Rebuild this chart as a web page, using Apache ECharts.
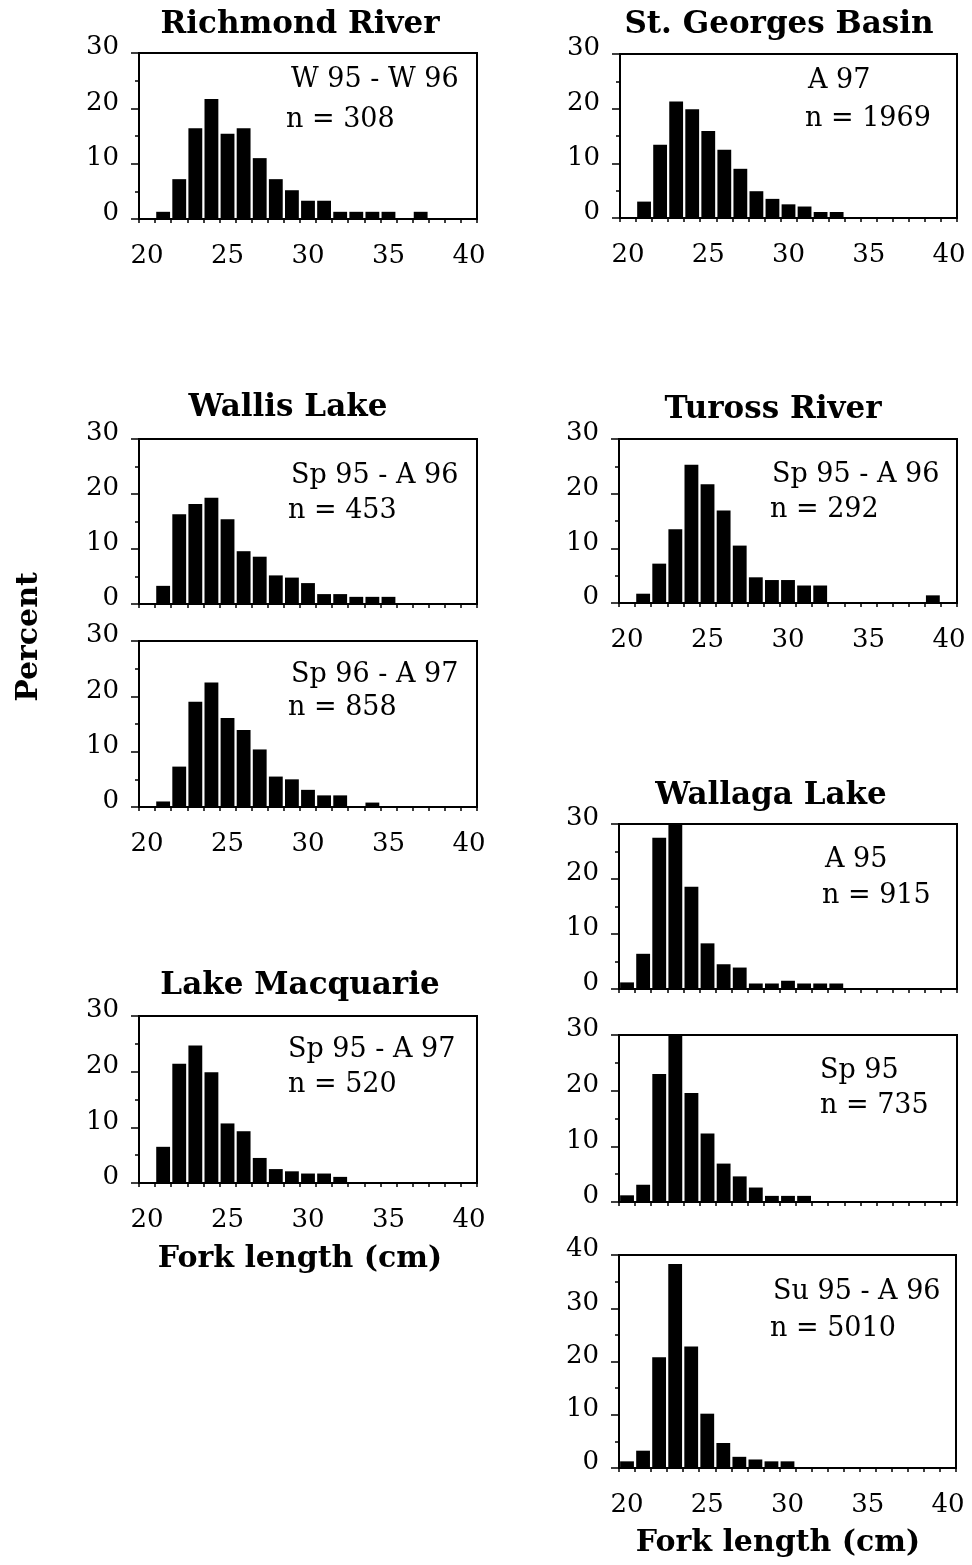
<!DOCTYPE html>
<html><head><meta charset="utf-8">
<script src="https://cdn.jsdelivr.net/npm/echarts@6/dist/echarts.min.js"></script>
<style>html,body{margin:0;padding:0;background:#fff}#c{width:972px;height:1565px}</style>
</head><body><div id="c"></div>
<script>
// Fork length bins (cm)
const lengthBins = ['20','21','22','23','24','25','26','27','28','29','30','31','32','33','34','35','36','37','38','39','40'];
// Percent per 1-cm length class
const richmondRiver  = [0,1.3,7.2,16.4,21.7,15.4,16.4,11.0,7.2,5.2,3.3,3.3,1.3,1.3,1.3,1.3,0,1.3,0,0,0];
const stGeorgesBasin = [0,3.0,13.4,21.3,19.9,15.9,12.5,9.0,4.9,3.5,2.5,2.1,1.1,1.1,0,0,0,0,0,0,0];
const wallisLakeA    = [0,3.3,16.3,18.2,19.3,15.4,9.6,8.6,5.2,4.8,3.8,1.8,1.8,1.3,1.3,1.3,0,0,0,0,0];
const wallisLakeB    = [0,1.0,7.3,19.0,22.5,16.1,13.9,10.4,5.5,5.0,3.1,2.1,2.1,0,0.8,0,0,0,0,0,0];
const turossRiver    = [0,1.7,7.2,13.5,25.3,21.7,16.9,10.5,4.7,4.2,4.2,3.2,3.2,0,0,0,0,0,0,1.4,0];
const lakeMacquarie  = [0,6.5,21.4,24.7,19.9,10.7,9.3,4.5,2.5,2.1,1.7,1.7,1.1,0,0,0,0,0,0,0,0];
const wallagaA95     = [1.2,6.4,27.5,30,18.6,8.3,4.5,3.9,1.0,1.0,1.5,1.0,1.0,1.0,0,0,0,0,0,0,0];
const wallagaSp95    = [1.2,3.1,23.0,30,19.6,12.3,6.9,4.6,2.6,1.1,1.1,1.1,0,0,0,0,0,0,0,0,0];
const wallagaSu95    = [1.25,3.25,20.8,38.3,22.8,10.2,4.7,2.1,1.6,1.25,1.25,0,0,0,0,0,0,0,0,0,0];

const siteTitles = ['Richmond River','St. Georges Basin','Wallis Lake','Tuross River','Wallaga Lake','Lake Macquarie'];
const periodLabels = ['W 95 - W 96','A 97','Sp 95 - A 96','Sp 96 - A 97','Sp 95 - A 96','Sp 95 - A 97','A 95','Sp 95','Su 95 - A 96'];
const sampleLabels = ['n = 308','n = 1969','n = 453','n = 858','n = 292','n = 520','n = 915','n = 735','n = 5010'];
const xAxisTitle = 'Fork length (cm)';
const yAxisTitle = 'Percent';

const FONT = '"DejaVu Serif", serif';

const panels = [
  {data: richmondRiver,  left:139, top:53,   width:338, height:166, yMax:30, xLabels:true},
  {data: stGeorgesBasin, left:620, top:54,   width:337, height:164, yMax:30, xLabels:true},
  {data: wallisLakeA,    left:139, top:439,  width:338, height:165, yMax:30, xLabels:false},
  {data: wallisLakeB,    left:139, top:641,  width:338, height:166, yMax:30, xLabels:true},
  {data: turossRiver,    left:619, top:439,  width:338, height:164, yMax:30, xLabels:true},
  {data: lakeMacquarie,  left:139, top:1016, width:338, height:167, yMax:30, xLabels:true},
  {data: wallagaA95,     left:619, top:824,  width:338, height:165, yMax:30, xLabels:false},
  {data: wallagaSp95,    left:619, top:1035, width:338, height:167, yMax:30, xLabels:false},
  {data: wallagaSu95,    left:619, top:1255, width:337, height:213, yMax:40, xLabels:true}
];
// annotation anchor positions (line 1, line 2)
const annoPos = [
  [[291,80],[286,120]],
  [[808,81],[805,119]],
  [[291,476],[288,511]],
  [[291,675],[288,708]],
  [[772,475],[770,510]],
  [[288,1050],[288,1085]],
  [[825,860],[822,896]],
  [[820,1071],[820,1106]],
  [[773,1292],[770,1329]]
];
const titlePos = [[300,25],[779,25],[288,408],[773,410],[771,796],[300,986]];

const grids = [], xAxes = [], yAxes = [], series = [];
panels.forEach((p, i) => {
  grids.push({left:p.left, top:p.top, width:p.width, height:p.height, show:true,
    borderColor:'#000', borderWidth:2, backgroundColor:'transparent', containLabel:false});
  xAxes.push({type:'category', gridIndex:i, data:lengthBins, boundaryGap:true,
    axisLine:{show:true, lineStyle:{color:'#000', width:2}},
    axisTick:{show:true, interval:0, length:4, lineStyle:{color:'#000', width:1.5}},
    axisLabel:{show:p.xLabels, interval:4, margin:24, color:'#000', fontFamily:FONT, fontSize:26},
    splitLine:{show:false}});
  yAxes.push({type:'value', gridIndex:i, min:0, max:p.yMax, interval:10,
    axisLine:{show:true, lineStyle:{color:'#000', width:2}},
    axisTick:{show:true, length:8, lineStyle:{color:'#000', width:1.5}},
    minorTick:{show:true, splitNumber:2, length:4, lineStyle:{color:'#000', width:1.5}},
    splitLine:{show:false}, minorSplitLine:{show:false},
    axisLabel:{margin:20, color:'#000', fontFamily:FONT, fontSize:26, verticalAlign:'bottom', lineHeight:11}});
  series.push({type:'bar', xAxisIndex:i, yAxisIndex:i, data:p.data, barWidth:'86%',
    itemStyle:{color:'#000'}, silent:true, clip:true});
});

const graphic = [];
siteTitles.forEach((t, i) => {
  graphic.push({type:'text', x:titlePos[i][0], y:titlePos[i][1],
    style:{text:t, fill:'#000', font:'bold 31px ' + FONT, textAlign:'center', textVerticalAlign:'middle'}});
});
periodLabels.forEach((t, i) => {
  graphic.push({type:'text', x:annoPos[i][0][0], y:annoPos[i][0][1],
    style:{text:t, fill:'#000', font:'27px ' + FONT, textAlign:'left', textVerticalAlign:'middle'}});
  graphic.push({type:'text', x:annoPos[i][1][0], y:annoPos[i][1][1],
    style:{text:sampleLabels[i], fill:'#000', font:'27px ' + FONT, textAlign:'left', textVerticalAlign:'middle'}});
});
[[300,1259],[778,1543]].forEach(pos => {
  graphic.push({type:'text', x:pos[0], y:pos[1],
    style:{text:xAxisTitle, fill:'#000', font:'bold 30px ' + FONT, textAlign:'center', textVerticalAlign:'middle'}});
});
graphic.push({type:'text', x:29, y:637, rotation:Math.PI/2,
  style:{text:yAxisTitle, fill:'#000', font:'bold 30px ' + FONT, textAlign:'center', textVerticalAlign:'middle'}});

const chart = echarts.init(document.getElementById('c'), null, {renderer:'canvas'});
chart.setOption({
  backgroundColor:'#fff',
  animation:false,
  grid:grids, xAxis:xAxes, yAxis:yAxes, series:series,
  graphic:graphic
});
</script></body></html>
